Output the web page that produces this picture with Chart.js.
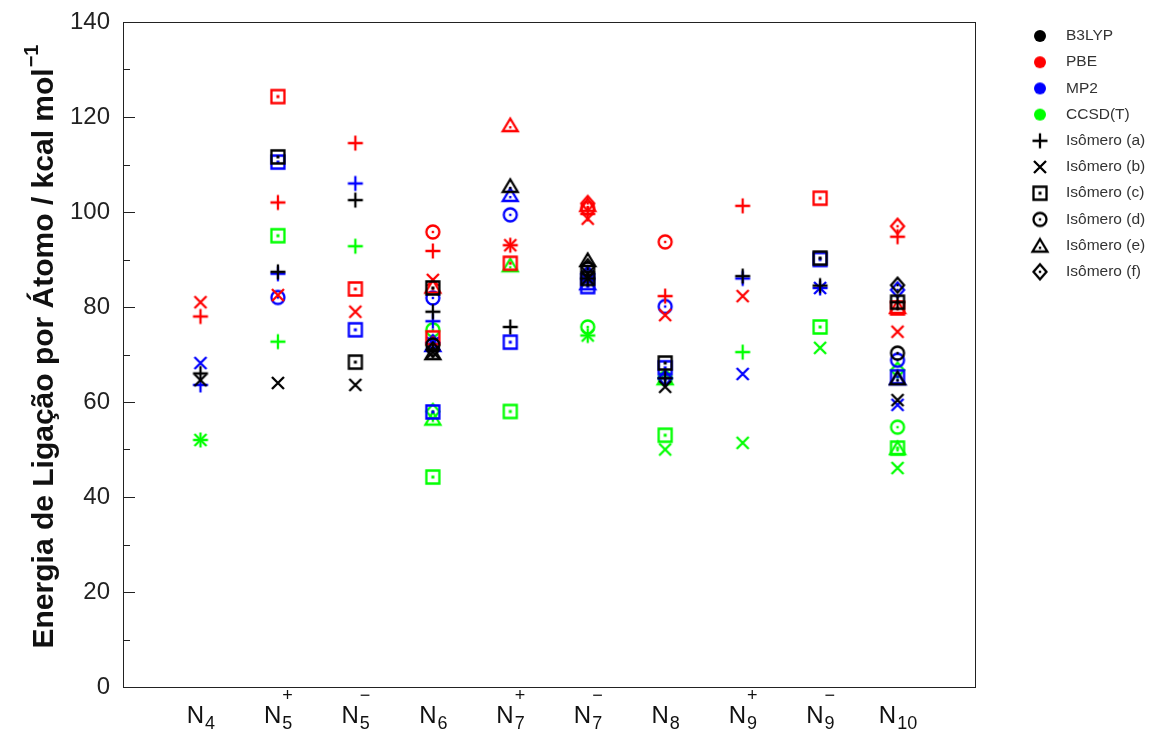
<!DOCTYPE html>
<html>
<head>
<meta charset="utf-8">
<script src="https://cdn.jsdelivr.net/npm/chart.js@4.4.0/dist/chart.umd.min.js"></script>
<style>
  html, body { margin: 0; padding: 0; background: #fff; }
</style>
</head>
<body>
<canvas id="grafico" width="1164" height="731"></canvas>
<script>
// categorias (N_n com carga)
const nomes = ['N', 'N', 'N', 'N', 'N', 'N', 'N', 'N', 'N', 'N'];
const indices = ['4', '5', '5', '6', '7', '7', '8', '9', '9', '10'];
const cargas = ['', '+', '−', '', '+', '−', '', '+', '−', ''];
const yTicks = [0, 20, 40, 60, 80, 100, 120, 140];
const tituloY = 'Energia de Ligação por Átomo / kcal mol';
const tituloYExp = '−1';

const metodos = ['B3LYP', 'PBE', 'MP2', 'CCSD(T)'];
const isomeros = ['Isômero (a)', 'Isômero (b)', 'Isômero (c)', 'Isômero (d)', 'Isômero (e)', 'Isômero (f)'];

// valores: N4, N5+, N5-, N6, N7+, N7-, N8, N9+, N9-, N10
const b3lyp_a = [66, 87.4, 102.5, 79, 75.8, 86, 65, 86.5, 84.5, 81];
const b3lyp_b = [64.6, 64, 63.6, 70.5, null, 86, 63.2, null, null, 60.4];
const b3lyp_c = [null, 111.6, 68.4, 84, null, 86, 68.2, null, 90.3, 81];
const b3lyp_d = [null, null, null, 72, null, 88, null, null, null, 70.3];
const b3lyp_e = [null, null, null, 70.3, 105.5, 89.9, null, null, null, 65];
const b3lyp_f = [null, null, null, 71, null, 88.5, null, null, null, 84.6];

const pbe_a = [78, 102, 114.5, 91.8, 93, 99.6, 82.3, 101.3, null, 94.8];
const pbe_b = [81, 82.5, 79, 85.7, 93, 98.6, 78.3, 82.3, null, 74.8];
const pbe_c = [null, 124.3, 83.8, 73.5, 89.2, null, null, null, 102.9, 79.8];
const pbe_d = [null, null, null, 95.8, null, 100.8, 93.7, null, null, null];
const pbe_e = [null, null, null, 84.3, 118.3, 101.5, null, null, null, 80];
const pbe_f = [null, null, null, null, null, 101.8, null, null, null, 97];

const mp2_a = [63.6, 87, 106, 77, null, 86, 65, 86, 84, null];
const mp2_b = [68.2, null, null, 72.4, null, 86, null, 65.9, 84, 59.4];
const mp2_c = [null, 110.5, 75.2, 57.9, 72.6, 84.3, 67.2, null, 90, 65.3];
const mp2_d = [null, 82, null, 81.9, 99.4, 86.5, 80.1, null, null, 68.8];
const mp2_e = [null, null, null, 72, 103.6, 85, null, null, null, 65];
const mp2_f = [null, null, null, 72.5, null, 87, 65, null, null, 83.6];

const ccsdt_a = [52, 72.7, 92.8, null, null, 74, null, 70.5, null, null];
const ccsdt_b = [52, null, null, null, null, 74, 50, 51.4, 71.4, 46.1];
const ccsdt_c = [null, 95, null, 44.2, 58, null, 53, null, 75.8, 50.3];
const ccsdt_d = [null, null, null, 75.2, null, 75.8, 65, null, null, 54.7];
const ccsdt_e = [null, null, null, 56.5, 88.8, null, 65, null, null, 50.3];
const ccsdt_f = [null, null, null, 58, null, null, null, null, null, 66.7];

const series = [
  [b3lyp_a, b3lyp_b, b3lyp_c, b3lyp_d, b3lyp_e, b3lyp_f],
  [pbe_a, pbe_b, pbe_c, pbe_d, pbe_e, pbe_f],
  [mp2_a, mp2_b, mp2_c, mp2_d, mp2_e, mp2_f],
  [ccsdt_a, ccsdt_b, ccsdt_c, ccsdt_d, ccsdt_e, ccsdt_f]
];
const cores = ['#000000', '#ff0000', '#0000ff', '#00ff00'];
const formas = ['a', 'b', 'c', 'd', 'e', 'f'];

function marcador(forma, cor) {
  const c = document.createElement('canvas');
  c.width = 20;
  c.height = 20;
  const g = c.getContext('2d');
  g.strokeStyle = cor;
  g.fillStyle = cor;
  g.lineWidth = 2.3;
  g.translate(10, 10);
  g.beginPath();
  if (forma === 'a') {
    g.moveTo(-7.5, 0); g.lineTo(7.5, 0);
    g.moveTo(0, -7.5); g.lineTo(0, 7.5);
    g.stroke();
  } else if (forma === 'b') {
    g.moveTo(-6, -6); g.lineTo(6, 6);
    g.moveTo(6, -6); g.lineTo(-6, 6);
    g.stroke();
  } else if (forma === 'c') {
    g.rect(-6.5, -6.5, 13, 13);
    g.stroke();
    g.fillRect(-1.5, -1.5, 3, 3);
  } else if (forma === 'd') {
    g.arc(0, 0, 6.5, 0, Math.PI * 2);
    g.stroke();
    g.fillRect(-1.2, -1.2, 2.4, 2.4);
  } else if (forma === 'e') {
    g.moveTo(0, -6.5); g.lineTo(7.5, 6); g.lineTo(-7.5, 6);
    g.closePath();
    g.stroke();
    g.fillRect(-1.2, 1, 2.4, 2.4);
  } else if (forma === 'f') {
    g.moveTo(0, -7.5); g.lineTo(6.5, 0); g.lineTo(0, 7.5); g.lineTo(-6.5, 0);
    g.closePath();
    g.stroke();
    g.fillRect(-1.2, -1.2, 2.4, 2.4);
  } else {
    g.arc(0, 0, 6, 0, Math.PI * 2);
    g.fill();
  }
  return c;
}

const datasets = [];
series.forEach((grupo, m) => {
  grupo.forEach((valores, i) => {
    const pts = [];
    valores.forEach((v, k) => {
      if (v !== null) pts.push({ x: k + 1, y: v });
    });
    datasets.push({
      label: metodos[m] + ' ' + isomeros[i],
      data: pts,
      pointStyle: marcador(formas[i], cores[m]),
      pointRadius: 8,
      showLine: false
    });
  });
});

const fonte = '"Liberation Sans", Arial, sans-serif';

const extras = {
  id: 'extras',
  afterDraw(chart) {
    const ctx = chart.ctx;
    const a = chart.chartArea;
    const sy = chart.scales.y;
    const sx = chart.scales.x;
    ctx.save();
    // moldura
    ctx.strokeStyle = '#222';
    ctx.lineWidth = 1;
    ctx.strokeRect(Math.round(a.left) + 0.5, Math.round(a.top) + 0.5,
      Math.round(a.right - a.left), Math.round(a.bottom - a.top));
    // marcas do eixo y (para dentro)
    for (let v = 0; v <= 140; v += 10) {
      const y = Math.round(sy.getPixelForValue(v)) + 0.5;
      const len = v % 20 === 0 ? 12 : 7;
      ctx.beginPath();
      ctx.moveTo(a.left, y);
      ctx.lineTo(a.left + len, y);
      ctx.stroke();
    }
    // rótulos do eixo x com índice e carga
    ctx.fillStyle = '#111';
    ctx.textBaseline = 'alphabetic';
    ctx.textAlign = 'left';
    nomes.forEach((n, k) => {
      const x = sx.getPixelForValue(k + 1);
      ctx.font = '24px ' + fonte;
      const wN = ctx.measureText(n).width;
      ctx.font = '18px ' + fonte;
      const wS = Math.max(ctx.measureText(indices[k]).width, ctx.measureText(cargas[k]).width);
      const x0 = x - (wN + wS) / 2;
      ctx.font = '24px ' + fonte;
      ctx.fillText(n, x0, 723);
      ctx.font = '18px ' + fonte;
      ctx.fillText(indices[k], x0 + wN + 1, 729);
      if (cargas[k]) ctx.fillText(cargas[k], x0 + wN + 1, 701);
    });
    // título do eixo y
    ctx.save();
    ctx.translate(53, 347);
    ctx.rotate(-Math.PI / 2);
    ctx.fillStyle = '#111';
    ctx.font = 'bold 30px ' + fonte;
    const w1 = ctx.measureText(tituloY).width;
    ctx.font = 'bold 20px ' + fonte;
    const w2 = ctx.measureText(tituloYExp).width;
    const x1 = -(w1 + w2) / 2;
    ctx.font = 'bold 30px ' + fonte;
    ctx.fillText(tituloY, x1, 0);
    ctx.font = 'bold 20px ' + fonte;
    ctx.fillText(tituloYExp, x1 + w1 + 1, -15);
    ctx.restore();
    // legenda
    const itens = metodos.map((t, m) => [marcador('o', cores[m]), t])
      .concat(isomeros.map((t, i) => [marcador(formas[i], '#000000'), t]));
    ctx.font = '15.5px ' + fonte;
    ctx.fillStyle = '#333';
    ctx.textBaseline = 'middle';
    itens.forEach((it, i) => {
      const y = 36 + i * 26.2;
      ctx.drawImage(it[0], 1030, y - 10);
      ctx.fillText(it[1], 1066, y);
    });
    ctx.restore();
  }
};

new Chart(document.getElementById('grafico'), {
  type: 'scatter',
  data: { datasets: datasets },
  options: {
    responsive: false,
    animation: false,
    layout: { padding: { left: 0, right: 189, top: 22, bottom: 44 } },
    plugins: {
      legend: { display: false },
      tooltip: { enabled: false }
    },
    scales: {
      x: {
        type: 'linear',
        min: 0,
        max: 11,
        display: false
      },
      y: {
        min: 0,
        max: 140,
        afterFit(scale) {
          scale.width = 123;
          scale.paddingTop = 0;
          scale.paddingBottom = 0;
        },
        afterBuildTicks(scale) { scale.ticks = yTicks.map(v => ({ value: v })); },
        grid: { display: false, drawTicks: false },
        border: { display: false },
        ticks: {
          padding: 13,
          color: '#222',
          font: { family: fonte, size: 24 }
        },
        title: { display: false }
      }
    }
  },
  plugins: [extras]
});
</script>
</body>
</html>
